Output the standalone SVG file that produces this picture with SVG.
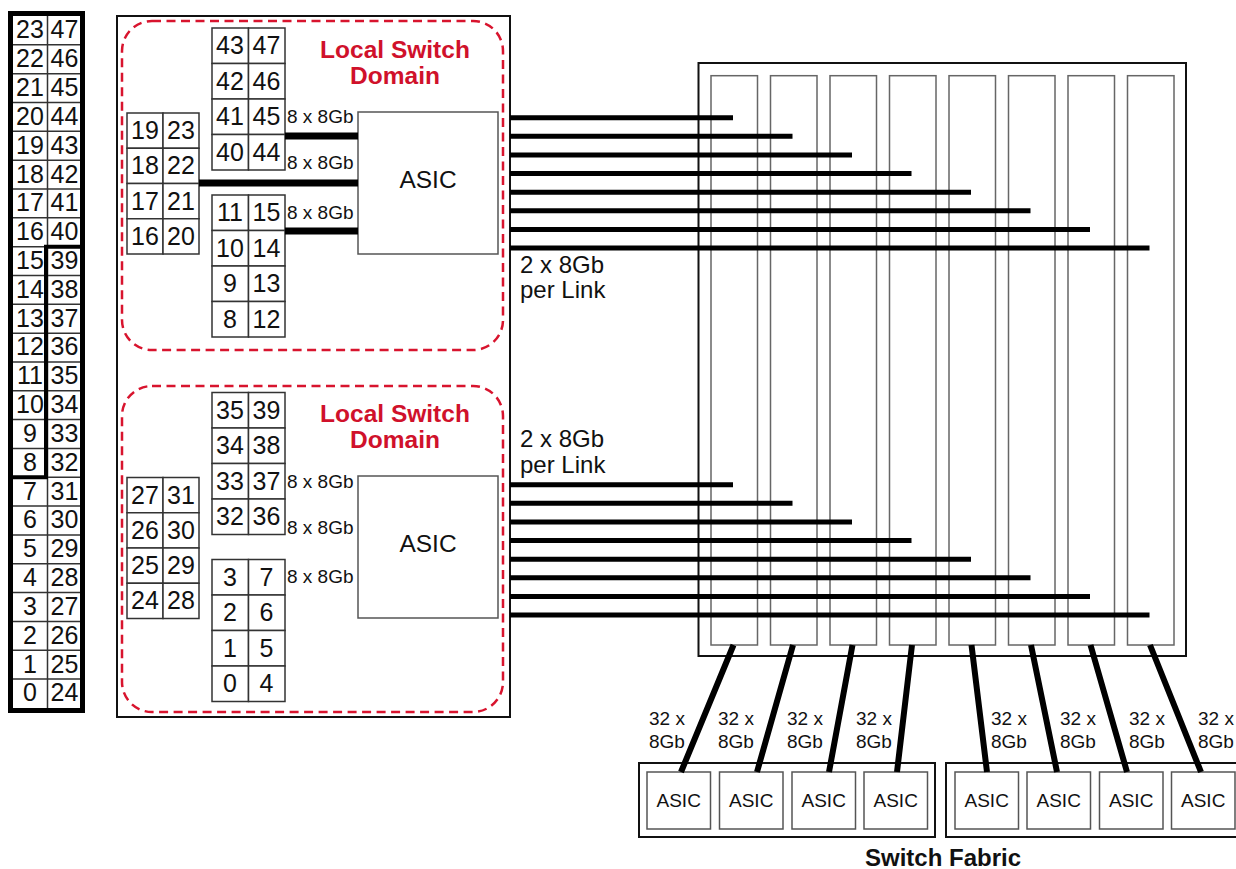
<svg xmlns="http://www.w3.org/2000/svg" width="1236" height="869" viewBox="0 0 1236 869">
<style>
text{font-family:"Liberation Sans",Arial,Helvetica,sans-serif;fill:#111}
.n{font-size:25px;text-anchor:middle}
.cell{fill:#fff;stroke:#333;stroke-width:1.5}
.box{fill:#fff;stroke:#111;stroke-width:2}
.gbox{fill:#fff;stroke:#555;stroke-width:1.5}
.slot{fill:none;stroke:#666;stroke-width:1.5}
.dash{fill:none;stroke:#d8142e;stroke-width:2.5;stroke-dasharray:9 5.5}
.red{fill:#d0112b;font-weight:bold;font-size:24.5px;text-anchor:middle}
.lbl{font-size:19px}
.big{font-size:24px}
.asic{font-size:24.5px;text-anchor:middle}
.sasic{font-size:19px;text-anchor:middle}
.link{stroke:#000;stroke-width:5;fill:none}
.thick{stroke:#000;stroke-width:7;fill:none}
.diag{stroke:#000;stroke-width:6;fill:none}
</style>

<!-- Front panel port map -->
<g id="port-panel">
  <rect x="10.5" y="13.5" width="72" height="697" fill="#fff" stroke="none"/>
  <path d="M13,44.83H80M13,73.66H80M13,102.49H80M13,131.32H80M13,160.15H80M13,188.98H80M13,217.81H80M13,246.64H80M13,275.47H80M13,304.3H80M13,333.13H80M13,361.96H80M13,390.79H80M13,419.62H80M13,448.45H80M13,477.28H80M13,506.11H80M13,534.94H80M13,563.77H80M13,592.6H80M13,621.43H80M13,650.26H80M13,679.09H80M47.5,16V708" stroke="#333" stroke-width="1.5" fill="none"/>
  <rect x="10.5" y="13.5" width="72" height="697" fill="none" stroke="#000" stroke-width="5"/>
  <path d="M82.5,246.64H46V477.28H10.5" fill="none" stroke="#000" stroke-width="4"/>
  <g class="n">
    <text x="30" y="38.3">23</text><text x="64.5" y="38.3">47</text>
    <text x="30" y="67.1">22</text><text x="64.5" y="67.1">46</text>
    <text x="30" y="96">21</text><text x="64.5" y="96">45</text>
    <text x="30" y="124.8">20</text><text x="64.5" y="124.8">44</text>
    <text x="30" y="153.6">19</text><text x="64.5" y="153.6">43</text>
    <text x="30" y="182.5">18</text><text x="64.5" y="182.5">42</text>
    <text x="30" y="211.3">17</text><text x="64.5" y="211.3">41</text>
    <text x="30" y="240.1">16</text><text x="64.5" y="240.1">40</text>
    <text x="30" y="268.9">15</text><text x="64.5" y="268.9">39</text>
    <text x="30" y="297.8">14</text><text x="64.5" y="297.8">38</text>
    <text x="30" y="326.6">13</text><text x="64.5" y="326.6">37</text>
    <text x="30" y="355.4">12</text><text x="64.5" y="355.4">36</text>
    <text x="30" y="384.3">11</text><text x="64.5" y="384.3">35</text>
    <text x="30" y="413.1">10</text><text x="64.5" y="413.1">34</text>
    <text x="30" y="441.9">9</text><text x="64.5" y="441.9">33</text>
    <text x="30" y="470.8">8</text><text x="64.5" y="470.8">32</text>
    <text x="30" y="499.6">7</text><text x="64.5" y="499.6">31</text>
    <text x="30" y="528.4">6</text><text x="64.5" y="528.4">30</text>
    <text x="30" y="557.2">5</text><text x="64.5" y="557.2">29</text>
    <text x="30" y="586.1">4</text><text x="64.5" y="586.1">28</text>
    <text x="30" y="614.9">3</text><text x="64.5" y="614.9">27</text>
    <text x="30" y="643.7">2</text><text x="64.5" y="643.7">26</text>
    <text x="30" y="672.6">1</text><text x="64.5" y="672.6">25</text>
    <text x="30" y="701.4">0</text><text x="64.5" y="701.4">24</text>
  </g>
</g>

<!-- Line card -->
<g id="line-card">
  <rect class="box" x="117" y="16" width="393" height="701"/>
</g>

<!-- Top local switch domain -->
<g id="domain-top">
  <rect class="dash" x="122" y="21" width="381" height="329" rx="30" ry="30"/>
  <text class="red" x="395" y="58">Local Switch</text>
  <text class="red" x="395" y="84">Domain</text>
  <g id="ports-top-a">
    <rect class="cell" x="212" y="28" width="36.5" height="35.5"/><rect class="cell" x="248.5" y="28" width="36.5" height="35.5"/>
    <rect class="cell" x="212" y="63.5" width="36.5" height="35.5"/><rect class="cell" x="248.5" y="63.5" width="36.5" height="35.5"/>
    <rect class="cell" x="212" y="99" width="36.5" height="35.5"/><rect class="cell" x="248.5" y="99" width="36.5" height="35.5"/>
    <rect class="cell" x="212" y="134.5" width="36.5" height="35.5"/><rect class="cell" x="248.5" y="134.5" width="36.5" height="35.5"/>
    <g class="n">
      <text x="230" y="54">43</text><text x="266.5" y="54">47</text>
      <text x="230" y="89.5">42</text><text x="266.5" y="89.5">46</text>
      <text x="230" y="125">41</text><text x="266.5" y="125">45</text>
      <text x="230" y="160.5">40</text><text x="266.5" y="160.5">44</text>
    </g>
  </g>
  <g id="ports-top-b">
    <rect class="cell" x="127" y="113" width="36" height="35.25"/><rect class="cell" x="163" y="113" width="36" height="35.25"/>
    <rect class="cell" x="127" y="148.25" width="36" height="35.25"/><rect class="cell" x="163" y="148.25" width="36" height="35.25"/>
    <rect class="cell" x="127" y="183.5" width="36" height="35.25"/><rect class="cell" x="163" y="183.5" width="36" height="35.25"/>
    <rect class="cell" x="127" y="218.75" width="36" height="35.25"/><rect class="cell" x="163" y="218.75" width="36" height="35.25"/>
    <g class="n">
      <text x="145" y="139">19</text><text x="181" y="139">23</text>
      <text x="145" y="174.25">18</text><text x="181" y="174.25">22</text>
      <text x="145" y="209.5">17</text><text x="181" y="209.5">21</text>
      <text x="145" y="244.75">16</text><text x="181" y="244.75">20</text>
    </g>
  </g>
  <g id="ports-top-c">
    <rect class="cell" x="212" y="195" width="36.5" height="35.5"/><rect class="cell" x="248.5" y="195" width="36.5" height="35.5"/>
    <rect class="cell" x="212" y="230.5" width="36.5" height="35.5"/><rect class="cell" x="248.5" y="230.5" width="36.5" height="35.5"/>
    <rect class="cell" x="212" y="266" width="36.5" height="35.5"/><rect class="cell" x="248.5" y="266" width="36.5" height="35.5"/>
    <rect class="cell" x="212" y="301.5" width="36.5" height="35.5"/><rect class="cell" x="248.5" y="301.5" width="36.5" height="35.5"/>
    <g class="n">
      <text x="230" y="221">11</text><text x="266.5" y="221">15</text>
      <text x="230" y="256.5">10</text><text x="266.5" y="256.5">14</text>
      <text x="230" y="292">9</text><text x="266.5" y="292">13</text>
      <text x="230" y="327.5">8</text><text x="266.5" y="327.5">12</text>
    </g>
  </g>
  <g id="asic-top">
    <rect class="gbox" x="358" y="112" width="140" height="142"/>
    <text class="asic" x="428" y="188">ASIC</text>
  </g>
  <g class="lbl">
    <text x="287" y="123">8 x 8Gb</text>
    <text x="287" y="169">8 x 8Gb</text>
    <text x="287" y="219">8 x 8Gb</text>
  </g>
</g>

<!-- Bottom local switch domain -->
<g id="domain-bottom">
  <rect class="dash" x="122" y="386" width="381" height="326" rx="30" ry="30"/>
  <text class="red" x="395" y="422">Local Switch</text>
  <text class="red" x="395" y="448">Domain</text>
  <g id="ports-bottom-a">
    <rect class="cell" x="212" y="392.5" width="36.5" height="35.5"/><rect class="cell" x="248.5" y="392.5" width="36.5" height="35.5"/>
    <rect class="cell" x="212" y="428" width="36.5" height="35.5"/><rect class="cell" x="248.5" y="428" width="36.5" height="35.5"/>
    <rect class="cell" x="212" y="463.5" width="36.5" height="35.5"/><rect class="cell" x="248.5" y="463.5" width="36.5" height="35.5"/>
    <rect class="cell" x="212" y="499" width="36.5" height="35.5"/><rect class="cell" x="248.5" y="499" width="36.5" height="35.5"/>
    <g class="n">
      <text x="230" y="418.5">35</text><text x="266.5" y="418.5">39</text>
      <text x="230" y="454">34</text><text x="266.5" y="454">38</text>
      <text x="230" y="489.5">33</text><text x="266.5" y="489.5">37</text>
      <text x="230" y="525">32</text><text x="266.5" y="525">36</text>
    </g>
  </g>
  <g id="ports-bottom-b">
    <rect class="cell" x="127" y="477.5" width="36" height="35.25"/><rect class="cell" x="163" y="477.5" width="36" height="35.25"/>
    <rect class="cell" x="127" y="512.75" width="36" height="35.25"/><rect class="cell" x="163" y="512.75" width="36" height="35.25"/>
    <rect class="cell" x="127" y="548" width="36" height="35.25"/><rect class="cell" x="163" y="548" width="36" height="35.25"/>
    <rect class="cell" x="127" y="583.25" width="36" height="35.25"/><rect class="cell" x="163" y="583.25" width="36" height="35.25"/>
    <g class="n">
      <text x="145" y="503.5">27</text><text x="181" y="503.5">31</text>
      <text x="145" y="538.75">26</text><text x="181" y="538.75">30</text>
      <text x="145" y="574">25</text><text x="181" y="574">29</text>
      <text x="145" y="609.25">24</text><text x="181" y="609.25">28</text>
    </g>
  </g>
  <g id="ports-bottom-c">
    <rect class="cell" x="212" y="559.5" width="36.5" height="35.5"/><rect class="cell" x="248.5" y="559.5" width="36.5" height="35.5"/>
    <rect class="cell" x="212" y="595" width="36.5" height="35.5"/><rect class="cell" x="248.5" y="595" width="36.5" height="35.5"/>
    <rect class="cell" x="212" y="630.5" width="36.5" height="35.5"/><rect class="cell" x="248.5" y="630.5" width="36.5" height="35.5"/>
    <rect class="cell" x="212" y="666" width="36.5" height="35.5"/><rect class="cell" x="248.5" y="666" width="36.5" height="35.5"/>
    <g class="n">
      <text x="230" y="585.5">3</text><text x="266.5" y="585.5">7</text>
      <text x="230" y="621">2</text><text x="266.5" y="621">6</text>
      <text x="230" y="656.5">1</text><text x="266.5" y="656.5">5</text>
      <text x="230" y="692">0</text><text x="266.5" y="692">4</text>
    </g>
  </g>
  <g id="asic-bottom">
    <rect class="gbox" x="358" y="476" width="140" height="142"/>
    <text class="asic" x="428" y="552">ASIC</text>
  </g>
  <g class="lbl">
    <text x="287" y="488">8 x 8Gb</text>
    <text x="287" y="534">8 x 8Gb</text>
    <text x="287" y="583">8 x 8Gb</text>
  </g>
</g>

<!-- Fabric backplane with slots -->
<g id="fabric-backplane">
  <rect class="box" x="698.5" y="63" width="487.5" height="593"/>
  <rect class="slot" x="711" y="75.7" width="46.5" height="569.3"/>
  <rect class="slot" x="770.5" y="75.7" width="46.5" height="569.3"/>
  <rect class="slot" x="830" y="75.7" width="46.5" height="569.3"/>
  <rect class="slot" x="889.5" y="75.7" width="46.5" height="569.3"/>
  <rect class="slot" x="949" y="75.7" width="46.5" height="569.3"/>
  <rect class="slot" x="1008.5" y="75.7" width="46.5" height="569.3"/>
  <rect class="slot" x="1068" y="75.7" width="46.5" height="569.3"/>
  <rect class="slot" x="1127.5" y="75.7" width="46.5" height="569.3"/>
</g>

<!-- Switch fabric ASICs -->
<g id="switch-fabric-left">
  <rect class="box" x="639" y="763" width="296" height="74"/>
  <g id="fabric-asic-1"><rect class="gbox" x="647" y="772" width="63.5" height="57"/><text class="sasic" x="678.7" y="807">ASIC</text></g>
  <g id="fabric-asic-2"><rect class="gbox" x="719.5" y="772" width="63.5" height="57"/><text class="sasic" x="751.2" y="807">ASIC</text></g>
  <g id="fabric-asic-3"><rect class="gbox" x="792" y="772" width="63.5" height="57"/><text class="sasic" x="823.7" y="807">ASIC</text></g>
  <g id="fabric-asic-4"><rect class="gbox" x="864" y="772" width="63.5" height="57"/><text class="sasic" x="895.7" y="807">ASIC</text></g>
</g>
<g id="switch-fabric-right">
  <rect class="box" x="946" y="763" width="296" height="74"/>
  <g id="fabric-asic-5"><rect class="gbox" x="955" y="772" width="63.5" height="57"/><text class="sasic" x="986.7" y="807">ASIC</text></g>
  <g id="fabric-asic-6"><rect class="gbox" x="1027" y="772" width="63.5" height="57"/><text class="sasic" x="1058.7" y="807">ASIC</text></g>
  <g id="fabric-asic-7"><rect class="gbox" x="1099.5" y="772" width="63.5" height="57"/><text class="sasic" x="1131.2" y="807">ASIC</text></g>
  <g id="fabric-asic-8"><rect class="gbox" x="1171.5" y="772" width="63.5" height="57"/><text class="sasic" x="1203.2" y="807">ASIC</text></g>
</g>
<text id="switch-fabric-label" x="943" y="866" style="font-size:24px;font-weight:bold;text-anchor:middle">Switch Fabric</text>

<!-- Connectors -->
<g id="connectors">
  <path class="thick" d="M285,136H358M199,183H358M285,231H358"/>
  <path class="link" d="M510,117.7H733M510,136.3H792.5M510,154.9H852M510,173.6H911.5M510,192.2H971M510,210.8H1030.5M510,229.4H1090M510,248H1149.5"/>
  <path class="link" d="M510,484.7H733M510,503.3H792.5M510,521.9H852M510,540.6H911.5M510,559.2H971M510,577.8H1030.5M510,596.4H1090M510,615H1149.5"/>
  <path class="diag" d="M733.5,645L681,772M793,645L757,772M852.5,645L829,772M912,645L897,772M971.5,645L987,772M1031,645L1057,772M1090.5,645L1127,772M1150,645L1201,772"/>
</g>

<!-- Link labels -->
<g id="link-labels" class="big">
  <text x="520" y="273">2 x 8Gb</text>
  <text x="520" y="298">per Link</text>
  <text x="520" y="447">2 x 8Gb</text>
  <text x="520" y="473">per Link</text>
</g>
<g id="fabric-labels" class="lbl">
  <text x="649" y="725">32 x</text><text x="649" y="748">8Gb</text>
  <text x="718" y="725">32 x</text><text x="718" y="748">8Gb</text>
  <text x="787" y="725">32 x</text><text x="787" y="748">8Gb</text>
  <text x="856" y="725">32 x</text><text x="856" y="748">8Gb</text>
  <text x="991" y="725">32 x</text><text x="991" y="748">8Gb</text>
  <text x="1060" y="725">32 x</text><text x="1060" y="748">8Gb</text>
  <text x="1129" y="725">32 x</text><text x="1129" y="748">8Gb</text>
  <text x="1198" y="725">32 x</text><text x="1198" y="748">8Gb</text>
</g>
</svg>
